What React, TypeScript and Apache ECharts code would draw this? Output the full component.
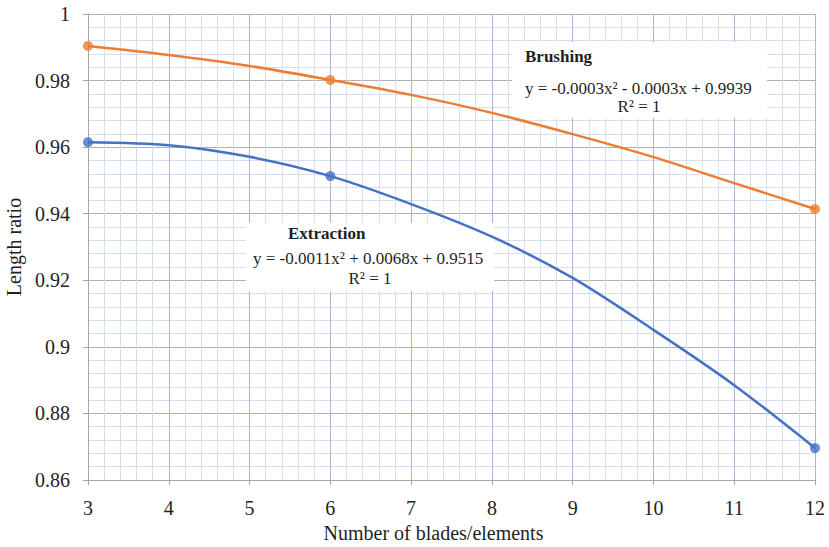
import React, { useEffect, useRef } from "react";
import * as echarts from "echarts";

const xTicks = [3, 4, 5, 6, 7, 8, 9, 10, 11, 12];
// Observed points (markers)
const brushingX = [3, 6, 12];
const brushingY = [0.9904, 0.9802, 0.9414];
const extractionX = [3, 6, 12];
const extractionY = [0.9615, 0.9513, 0.8696];
// Polynomial trendline at each integer x
const brushingTrend = [0.9904, 0.9877, 0.9844, 0.9802, 0.9757, 0.9703, 0.9639, 0.957, 0.9492, 0.9414];
const extractionTrend = [0.9615, 0.9606, 0.9571, 0.9513, 0.9429, 0.9331, 0.9207, 0.9051, 0.8885, 0.8696];

const xTitle = "Number of blades/elements";
const yTitle = "Length ratio";
const brushingLabel = "Brushing";
const brushingEq = "y = -0.0003x² - 0.0003x + 0.9939";
const extractionLabel = "Extraction";
const extractionEq = "y = -0.0011x² + 0.0068x + 0.9515";
const r2Text = "R² = 1";

const ORANGE = "#ED7D31";
const BLUE = "#4472C4";
const FONT = "Liberation Serif";
const TXT = "#1f1f1f";

export default function App() {
  const ref = useRef<HTMLDivElement>(null);
  useEffect(() => {
    if (!ref.current) return;
    const chart = echarts.init(ref.current, null, { renderer: "svg" });
    const pair = (xs: number[], ys: number[]) => xs.map((x, i) => [x, ys[i]]);
    const fmt = (v: number) => String(parseFloat(v.toFixed(2)));
    chart.setOption({
      animation: false,
      backgroundColor: "#ffffff",
      textStyle: { fontFamily: FONT },
      grid: { left: 88, right: 14, top: 14, bottom: 67, containLabel: false, outerBoundsMode: "none" },
      xAxis: {
        type: "value",
        min: xTicks[0],
        max: xTicks[xTicks.length - 1],
        interval: 1,
        name: xTitle,
        nameLocation: "middle",
        nameGap: 42,
        nameTextStyle: { fontFamily: FONT, fontSize: 20, color: TXT, padding: [0, 36, 0, 0] },
        axisLine: { show: true, lineStyle: { color: "#a6a6a6", width: 1 } },
        axisTick: { show: true, length: 5, lineStyle: { color: "#a6a6a6" } },
        axisLabel: { fontFamily: FONT, fontSize: 20, color: TXT, margin: 18 },
        splitLine: { show: true, lineStyle: { color: "#a9b6d8", width: 1 } },
        minorTick: { show: false, splitNumber: 5 },
        minorSplitLine: { show: true, lineStyle: { color: "#d7def0", width: 1 } },
      },
      yAxis: {
        type: "value",
        min: 0.86,
        max: 1,
        interval: 0.02,
        name: yTitle,
        nameLocation: "middle",
        nameGap: 58,
        nameTextStyle: { fontFamily: FONT, fontSize: 20, color: TXT },
        axisLine: { show: true, lineStyle: { color: "#a6a6a6", width: 1 } },
        axisTick: { show: true, length: 5, lineStyle: { color: "#a6a6a6" } },
        axisLabel: { fontFamily: FONT, fontSize: 20, color: TXT, margin: 18, formatter: fmt },
        splitLine: { show: true, lineStyle: { color: "#b0b0b0", width: 1 } },
        minorTick: { show: false, splitNumber: 5 },
        minorSplitLine: { show: true, lineStyle: { color: "#d7def0", width: 1 } },
      },
      series: [
        {
          name: "Brushing trend",
          type: "line",
          data: pair(xTicks, brushingTrend),
          smooth: 0.3,
          showSymbol: false,
          lineStyle: { color: ORANGE, width: 2.5 },
          z: 5,
        },
        {
          name: "Extraction trend",
          type: "line",
          data: pair(xTicks, extractionTrend),
          smooth: 0.3,
          showSymbol: false,
          lineStyle: { color: BLUE, width: 2.5 },
          z: 5,
        },
        {
          name: "Brushing",
          type: "scatter",
          data: pair(brushingX, brushingY),
          symbolSize: 10,
          itemStyle: { color: ORANGE },
          z: 6,
        },
        {
          name: "Extraction",
          type: "scatter",
          data: pair(extractionX, extractionY),
          symbolSize: 10,
          itemStyle: { color: BLUE },
          z: 6,
        },
      ],
      graphic: [
        { type: "rect", z: 1, shape: { x: 512, y: 42, width: 255, height: 76 }, style: { fill: "#ffffff" } },
        { type: "text", z: 11, x: 525, y: 56, style: { text: brushingLabel, fontFamily: FONT, fontSize: 17, fontWeight: "bold", fill: TXT, verticalAlign: "middle" } },
        { type: "text", z: 11, x: 525, y: 88, style: { text: brushingEq, fontFamily: FONT, fontSize: 17, fill: TXT, verticalAlign: "middle" } },
        { type: "text", z: 11, x: 639, y: 106, style: { text: r2Text, fontFamily: FONT, fontSize: 17, fill: TXT, align: "center", verticalAlign: "middle" } },
        { type: "rect", z: 1, shape: { x: 246, y: 223, width: 248, height: 68 }, style: { fill: "#ffffff" } },
        { type: "text", z: 11, x: 288, y: 233, style: { text: extractionLabel, fontFamily: FONT, fontSize: 17, fontWeight: "bold", fill: TXT, verticalAlign: "middle" } },
        { type: "text", z: 11, x: 253, y: 258, style: { text: extractionEq, fontFamily: FONT, fontSize: 17, fill: TXT, verticalAlign: "middle" } },
        { type: "text", z: 11, x: 370, y: 278, style: { text: r2Text, fontFamily: FONT, fontSize: 17, fill: TXT, align: "center", verticalAlign: "middle" } },
      ],
    });
    return () => chart.dispose();
  }, []);
  return (
    <div
      ref={ref}
      style={{ position: "fixed", left: 0, top: 0, width: 829, height: 547, background: "#fff" }}
    />
  );
}
